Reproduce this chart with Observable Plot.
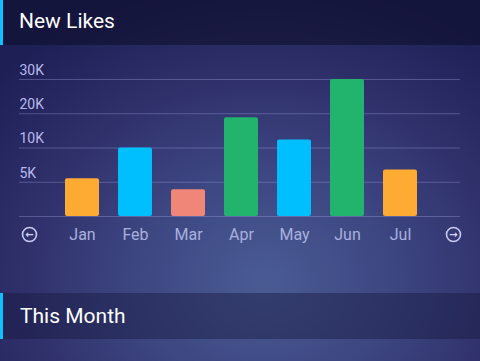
<!DOCTYPE html>
<html>
<head>
<meta charset="utf-8">
<script src="https://cdn.jsdelivr.net/npm/d3@7"></script>
<script src="https://cdn.jsdelivr.net/npm/@observablehq/plot@0.6"></script>
<style>
  html, body { margin: 0; padding: 0; }
  body {
    width: 480px; height: 361px; overflow: hidden; position: relative;
    font-family: Roboto, "Noto Sans", sans-serif;
    background: radial-gradient(ellipse 75% 85% at 55% 78%, #4a5b94 0%, #3d4782 35%, #2f2f6a 68%, #1d1f55 100%);
  }
  .band {
    position: absolute; left: 0; width: 480px; box-sizing: border-box;
    border-left: 3px solid #10c0ff; color: #fff; padding-left: 16px;
  }
  #h1 { top: 0; height: 45px; font-size: 21px; line-height: 43px; background: rgba(12,12,40,0.55); }
  #h2 { top: 293px; height: 46px; font-size: 21px; line-height: 46px; background: rgba(22,24,60,0.42); padding-left: 17px; }
  #chart { position: absolute; left: 0; top: 45px; }
</style>
</head>
<body>
<div class="band" id="h1">New Likes</div>
<div id="chart"></div>
<div class="band" id="h2">This Month</div>
<script>
const months = ["Jan", "Feb", "Mar", "Apr", "May", "Jun", "Jul"];
const likes = [5500, 10000, 3900, 18800, 12300, 30000, 6800];
const barColors = ["#fdab33", "#00bfff", "#ef8677", "#22b46c", "#00bfff", "#22b46c", "#fdab33"];
const yTicks = [5000, 10000, 20000, 30000];
const yTickLabels = ["5K", "10K", "20K", "30K"];
const navPrev = "prev";
const navNext = "next";

const W = 480, H = 248, mTop = 34, mBottom = 77;
const data = months.map((m, i) => ({month: m, value: likes[i], color: barColors[i]}));
const slots = [navPrev, ...months, navNext];
const navs = [{slot: navPrev, arrow: "←"}, {slot: navNext, arrow: "→"}];
const yDomain = [0, ...yTicks];
const yBottom = H - mBottom;
const yRange = yDomain.map((_, i) => yBottom + (i / (yDomain.length - 1)) * (mTop - yBottom));

const chart = Plot.plot({
  width: W,
  height: H,
  marginLeft: 19,
  marginRight: 20,
  marginTop: mTop,
  marginBottom: mBottom,
  style: {background: "transparent", fontFamily: "Roboto, sans-serif", overflow: "visible"},
  x: {type: "band", domain: slots, range: [1.5, 479.5], paddingInner: 0.36, paddingOuter: 0.18},
  y: {type: "linear", domain: yDomain, range: yRange},
  marks: [
    Plot.ruleY(yDomain, {stroke: "#a6a6e6", strokeOpacity: 0.35, strokeWidth: 1}),
    Plot.axisY({ticks: yTicks, tickFormat: (d) => yTickLabels[yTicks.indexOf(d)], tickSize: 0, tickPadding: 0,
      textAnchor: "start", dy: -9, fontSize: 14, fill: "#b8b8ec", label: null}),
    Plot.barY(data, {x: "month", y: "value", fill: "color", rx: 2}),
    Plot.axisX({ticks: months, tickSize: 0, tickPadding: 12, fontSize: 16, fill: "#a9b0de", label: null}),
    Plot.dot(navs, {x: "slot", frameAnchor: "bottom", dy: 18, r: 7, stroke: "#c9c9f2", strokeWidth: 1.6, fill: "none"}),
    Plot.text(navs, {x: "slot", text: "arrow", frameAnchor: "bottom", lineAnchor: "middle", dy: 18, fontSize: 10,
      fontWeight: "bold", fontFamily: "DejaVu Sans", fill: "#d4d4f6"})
  ]
});
document.getElementById("chart").appendChild(chart);
</script>
</body>
</html>
